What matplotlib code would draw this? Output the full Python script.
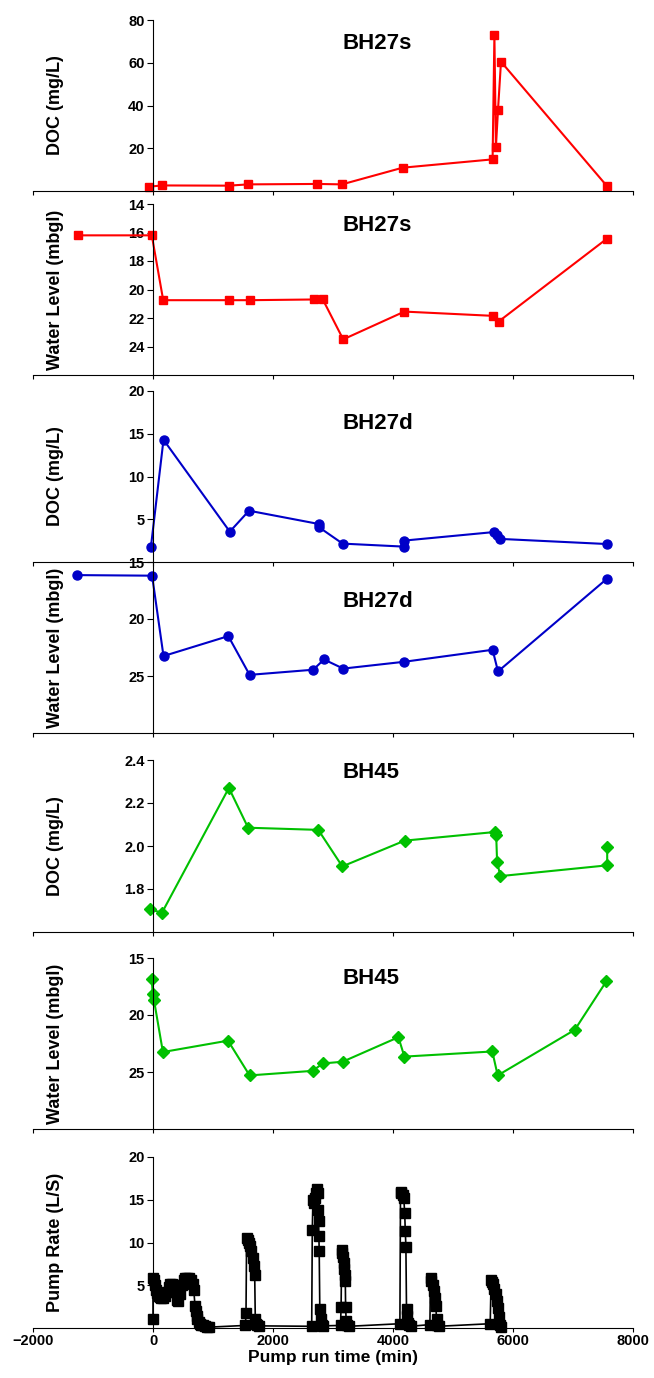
import matplotlib
matplotlib.use('Agg')
import matplotlib.pyplot as plt

# pumping test plots - DOC and water level for each bore, pump rate at the bottom

# BH27s
bh27s_doc_t = [-70, 150, 1260, 1590, 2740, 3150, 4160, 5660, 5690, 5715, 5750, 5800, 7560]
bh27s_doc = [2.0, 2.6, 2.5, 3.1, 3.3, 3.1, 10.9, 14.8, 72.8, 20.4, 37.9, 60.5, 2.5]
bh27s_wl_t = [-1250, -20, 170, 1260, 1610, 2690, 2830, 3170, 4190, 5670, 5760, 7560]
bh27s_wl = [16.2, 16.2, 20.75, 20.75, 20.75, 20.7, 20.7, 23.5, 21.55, 21.85, 22.25, 16.45]

# BH27d
bh27d_doc_t = [-35, 175, 1280, 1600, 2760, 2770, 3160, 4180, 4180, 5680, 5730, 5790, 7570]
bh27d_doc = [1.75, 14.3, 3.55, 6.0, 4.45, 4.05, 2.15, 1.8, 2.5, 3.5, 3.2, 2.7, 2.1]
bh27d_wl_t = [-1260, -15, 175, 1255, 1610, 2670, 2850, 3170, 4190, 5660, 5750, 7570]
bh27d_wl = [16.15, 16.2, 23.25, 21.5, 24.9, 24.45, 23.55, 24.35, 23.75, 22.7, 24.6, 16.45]

# BH45
bh45_doc_t = [-55, 150, 1265, 1585, 2755, 3155, 4195, 5695, 5720, 5735, 5790, 7570, 7570]
bh45_doc = [1.705, 1.69, 2.27, 2.085, 2.075, 1.905, 2.025, 2.065, 2.05, 1.925, 1.86, 1.91, 1.995]
bh45_wl_t = [-20, -5, 15, 165, 1250, 1610, 2660, 2830, 3160, 4090, 4190, 5655, 5745, 7030, 7555]
bh45_wl = [16.85, 18.2, 18.65, 23.25, 22.25, 25.3, 24.9, 24.25, 24.1, 21.95, 23.65, 23.2, 25.3, 21.3, 17.05]

# pump rate (L/S)
pump_t = [0, 0, 15, 30, 50, 70, 90, 110, 140, 170, 200, 230, 260, 290, 320, 350, 380, 400, 420,
          450, 480, 510, 540, 570, 600, 630, 660, 680, 700, 710, 725, 740, 760, 780, 800, 830, 860, 900, 940,
          1540, 1550, 1560, 1580, 1600, 1620, 1640, 1660, 1680, 1695, 1705, 1715, 1730, 1760,
          2645, 2655, 2665, 2680, 2700, 2720, 2740, 2750, 2755, 2760, 2765, 2770, 2780, 2795, 2815, 2840,
          3125, 3135, 3145, 3155, 3165, 3175, 3185, 3195, 3205, 3210, 3220, 3240, 3270,
          4115, 4125, 4140, 4160, 4180, 4195, 4205, 4215, 4225, 4235, 4250, 4270, 4300,
          4615, 4625, 4640, 4660, 4680, 4700, 4715, 4725, 4740, 4760,
          5620, 5635, 5650, 5670, 5690, 5710, 5730, 5750, 5765, 5780, 5800]
pump_rate = [1.0, 5.8, 5.6, 5.0, 4.5, 4.1, 3.8, 3.6, 3.5, 3.5, 3.7, 4.2, 4.8, 5.1, 5.2, 5.0, 4.2, 3.3, 3.2,
             4.0, 5.0, 5.6, 5.9, 5.9, 5.8, 5.6, 5.2, 4.4, 2.6, 2.0, 1.4, 1.0, 0.7, 0.5, 0.4, 0.3, 0.2, 0.15, 0.1,
             0.3, 1.7, 10.5, 10.3, 10.0, 9.6, 9.0, 8.2, 7.2, 6.2, 1.0, 0.5, 0.3, 0.25,
             0.2, 11.5, 15.0, 14.6, 15.2, 15.8, 16.3, 15.8, 13.8, 12.5, 10.8, 9.0, 2.2, 1.0, 0.4, 0.25,
             0.3, 2.5, 9.1, 8.8, 8.3, 7.6, 6.9, 6.2, 5.5, 2.5, 0.8, 0.3, 0.2,
             0.5, 15.8, 15.9, 15.6, 15.2, 13.4, 11.3, 9.5, 2.2, 1.4, 0.6, 0.3, 0.2,
             0.4, 5.8, 5.5, 5.0, 4.3, 3.5, 2.6, 1.0, 0.3, 0.2,
             0.5, 5.6, 5.4, 5.1, 4.6, 4.0, 3.2, 2.3, 1.3, 0.4, 0.15]

x_ticks = [-2000, 0, 2000, 4000, 6000, 8000]

plt.rcParams['font.family'] = ['Liberation Sans', 'DejaVu Sans']
plt.rcParams['font.weight'] = 'bold'

W, H = 654, 1378
fig = plt.figure(figsize=(W / 100, H / 100), dpi=100)

# (top, bottom) of each panel in pixels from the top of the picture
panel_px = [(20, 191), (204, 375), (391, 562), (562, 733), (760, 932), (958, 1129), (1157, 1328)]


def make_panel(i, ylim, yticks, ylabel, title=None, title_y=0.87, title_x=0.515):
    top, bottom = panel_px[i]
    ax = fig.add_axes([33 / W, 1 - bottom / H, 600 / W, (bottom - top) / H])
    ax.set_xlim(-2000, 8000)
    ax.set_ylim(*ylim)
    ax.set_xticks(x_ticks)
    ax.set_yticks(yticks)
    ax.spines['top'].set_visible(False)
    ax.spines['right'].set_visible(False)
    ax.spines['left'].set_position(('data', 0))
    for s in ['left', 'bottom']:
        ax.spines[s].set_linewidth(0.8)
    ax.tick_params(axis='x', direction='out', length=3, width=0.8, labelbottom=False, pad=1)
    ax.tick_params(axis='y', direction='out', length=4, width=0.8, pad=2, labelsize=10.5)
    ax.set_ylabel(ylabel, fontsize=13, fontweight='bold', va='center')
    ax.yaxis.set_label_coords(23 / 600, 0.5)
    ax.patch.set_visible(False)
    if title:
        ax.text(title_x, title_y, title, transform=ax.transAxes, fontsize=16,
                fontweight='bold', ha='left', va='center')
    return ax


ax1 = make_panel(0, (0, 80), [20, 40, 60, 80], 'DOC (mg/L)', 'BH27s', 0.865)
ax1.plot(bh27s_doc_t, bh27s_doc, '-s', color='#ff0000', ms=6, lw=1.5, clip_on=False)

ax2 = make_panel(1, (26, 14), [14, 16, 18, 20, 22, 24], 'Water Level (mbgl)', 'BH27s', 0.877)
ax2.plot(bh27s_wl_t, bh27s_wl, '-s', color='#ff0000', ms=6, lw=1.5, clip_on=False)

ax3 = make_panel(2, (0, 20), [5, 10, 15, 20], 'DOC (mg/L)', 'BH27d', 0.81)
ax3.plot(bh27d_doc_t, bh27d_doc, '-o', color='#0000c8', ms=6.5, lw=1.5, clip_on=False)

ax4 = make_panel(3, (30, 15), [15, 20, 25], 'Water Level (mbgl)', 'BH27d', 0.77)
ax4.plot(bh27d_wl_t, bh27d_wl, '-o', color='#0000c8', ms=6.5, lw=1.5, clip_on=False)

ax5 = make_panel(4, (1.6, 2.4), [1.8, 2.0, 2.2, 2.4], 'DOC (mg/L)', 'BH45', 0.93)
ax5.plot(bh45_doc_t, bh45_doc, '-D', color='#00c000', ms=6.5, lw=1.5, clip_on=False)

ax6 = make_panel(5, (30, 15), [15, 20, 25], 'Water Level (mbgl)', 'BH45', 0.88)
ax6.plot(bh45_wl_t, bh45_wl, '-D', color='#00c000', ms=6.5, lw=1.5, clip_on=False)

ax7 = make_panel(6, (0, 20), [5, 10, 15, 20], 'Pump Rate (L/S)')
ax7.plot(pump_t, pump_rate, '-s', color='black', ms=6.5, lw=1.2, clip_on=False)
ax7.tick_params(axis='x', labelbottom=True, labelsize=10.5)
ax7.set_xlabel('Pump run time (min)', fontsize=12.5, fontweight='bold', labelpad=2)

fig.savefig('out.png', dpi=100)
